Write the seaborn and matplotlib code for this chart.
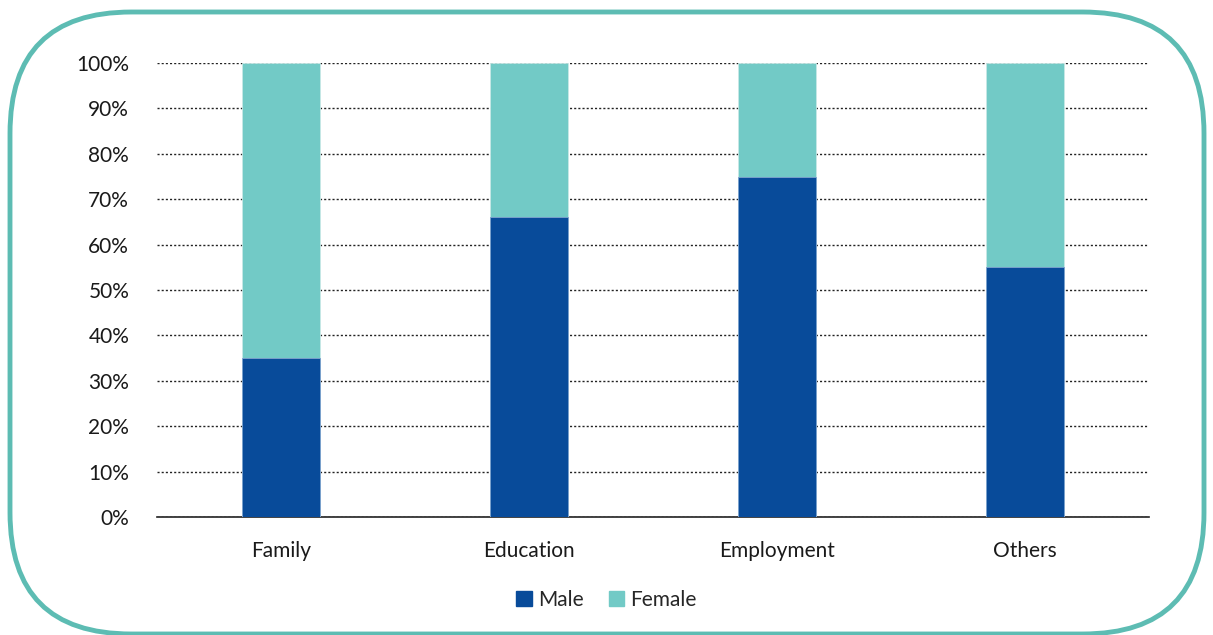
import matplotlib
matplotlib.use("Agg")
import matplotlib.pyplot as plt
from matplotlib.patches import FancyBboxPatch, Patch
from matplotlib.ticker import PercentFormatter
import seaborn as sns
import pandas as pd

categories = ["Family", "Education", "Employment", "Others"]
male = [35, 66, 75, 55]
female = [65, 34, 25, 45]

MALE_COLOR = "#084b9a"
FEMALE_COLOR = "#72cac6"
BORDER_COLOR = "#5dbcb3"

df = pd.DataFrame({"category": categories, "male": male, "female": female})
df["total"] = df["male"] + df["female"]

sns.set_style("white")
plt.rcParams["font.family"] = ["Lato", "DejaVu Sans"]

fig = plt.figure(figsize=(12.13, 6.35), dpi=100)
ax = fig.add_axes([157 / 1213, 1 - 517 / 635, 992 / 1213, 454 / 635])

# female stacked on top of male: draw totals first, then male over it
sns.barplot(data=df, x="category", y="total", color=FEMALE_COLOR, width=0.315,
            saturation=1, ax=ax, zorder=3, edgecolor="#c8e8e6", linewidth=0.6)
sns.barplot(data=df, x="category", y="male", color=MALE_COLOR, width=0.315,
            saturation=1, ax=ax, zorder=4, edgecolor="#7fa3cf", linewidth=0.6)

ax.set_xlim(-0.5, 3.5)
ax.set_ylim(0, 100)
ax.set_yticks(range(0, 101, 10))
ax.yaxis.set_major_formatter(PercentFormatter(decimals=0))
ax.set_xlabel("")
ax.set_ylabel("")

ax.grid(axis="y", linestyle=(0, (1.5, 1.5)), color="#222222", linewidth=1, zorder=0)
ax.set_axisbelow(True)
for side in ["left", "right", "top"]:
    ax.spines[side].set_visible(False)
ax.spines["bottom"].set_color("#222222")
ax.spines["bottom"].set_linewidth(1.2)
ax.tick_params(axis="both", length=0, labelsize=15, colors="#1a1a1a")
ax.tick_params(axis="y", pad=20)
ax.tick_params(axis="x", pad=17)

handles = [Patch(color=MALE_COLOR, label="Male"), Patch(color=FEMALE_COLOR, label="Female")]
fig.legend(handles=handles, loc="center", bbox_to_anchor=(0.5, 1 - 600 / 635), ncol=2,
           frameon=False, fontsize=15, handlelength=0.75, handleheight=0.75,
           handletextpad=0.3, columnspacing=1.2)

border = FancyBboxPatch((10 / 1213, 1 / 635), 1194 / 1213, 622 / 635,
                        boxstyle="round,pad=0,rounding_size=0.1",
                        transform=fig.transFigure, fill=False,
                        edgecolor=BORDER_COLOR, linewidth=3.5,
                        mutation_aspect=1213 / 635)
fig.patches.append(border)

fig.savefig("out.png", dpi=100)
